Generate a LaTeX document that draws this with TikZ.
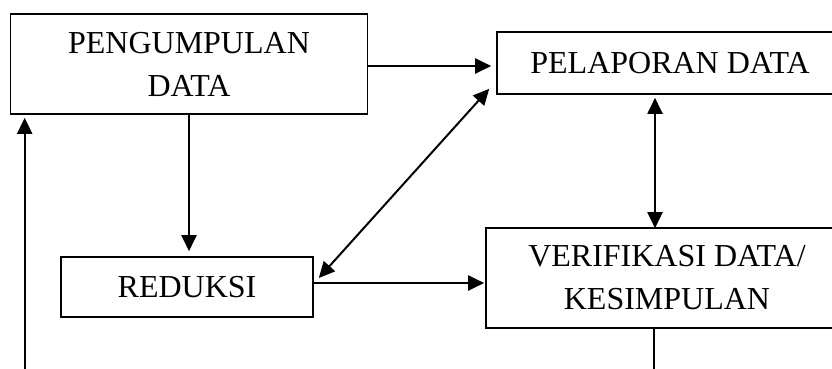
\documentclass[tikz,border=0pt]{standalone}
\usepackage{fontspec}
\setmainfont{Liberation Serif}
\usetikzlibrary{arrows.meta,calc}
\begin{document}
\begin{tikzpicture}[x=1pt,y=-1pt,
  box/.style={draw,line width=1.6pt,inner sep=0pt,align=center,font=\fontsize{32}{43}\selectfont},
  tip/.style={},
  arr/.style={line width=2pt,-{Triangle[length=16pt,width=15pt]}},
  darr/.style={line width=2pt,{Triangle[length=16pt,width=15pt]}-{Triangle[length=16pt,width=15pt]}}]
\useasboundingbox (0,0) rectangle (832,368);
\fill[white] (0,0) rectangle (832,368);
\clip (0,0) rectangle (832,368);
\node[box,minimum width=357pt,minimum height=100pt] (A) at (189,64) {PENGUMPULAN\\DATA};
\node[box,minimum width=346pt,minimum height=62pt] (B) at (670,63) {PELAPORAN DATA};
\node[box,minimum width=252pt,minimum height=60pt] (C) at (187,287) {REDUKSI};
\node[box,minimum width=362pt,minimum height=100pt] (D) at (667,278) {VERIFIKASI DATA/\\KESIMPULAN};
% arrows
\draw[arr] ($(A.east)+(0,2)$) -- ($(B.west)+(-5,3)$);
\draw[arr,shorten >=5pt] (A.south) -- (A.south |- C.north);
\draw[darr] ($(C.east)+(5,-9)$) -- ($(B.south west)+(-7,-6)$);
\draw[arr] ($(C.east)+(0,-4)$) -- ($(D.west)+(-1,5)$);
\draw[darr] ($(B.south)+(-15,3)$) -- ($(D.north)+(-12,1)$);
\draw[arr] ($(D.south)+(-13,0)$) -- ++(0,60) -| ($(A.south west)+(15,3)$);
\end{tikzpicture}
\end{document}
